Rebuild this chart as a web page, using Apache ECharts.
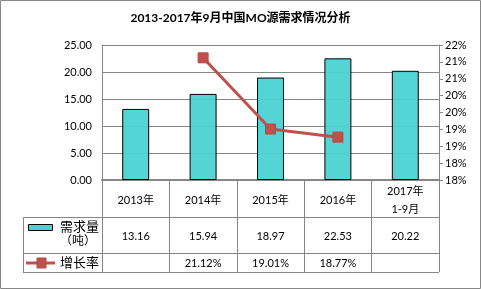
<!DOCTYPE html>
<html><head><meta charset="utf-8">
<script src="https://cdn.jsdelivr.net/npm/echarts@6/dist/echarts.min.js"></script>
<style>html,body{margin:0;padding:0;background:#fff}#c{width:481px;height:289px}</style>
</head><body><div id="c"></div>
<script>
var categories = ['2013年', '2014年', '2015年', '2016年', '2017年\n1-9月'];
var demand = [13.16, 15.94, 18.97, 22.53, 20.22];
var growth = [null, 21.12, 19.01, 18.77, null];
var leftTicks = { min: 0, max: 25, interval: 5 };
var rightTicks = { min: 17.5, max: 21.5, interval: 0.5 };
var seriesNames = ['需求量', '增长率'];
var unitLabel = '（吨）';
var title = '2013-2017年9月中国MO源需求情况分析';

var FONT = "Lato, 'Noto Sans CJK SC', sans-serif";
var GREY = '#868686';
var chart = echarts.init(document.getElementById('c'), null, { renderer: 'canvas' });
var gridL = 102, gridR = 439, gridT = 45, gridB = 180;
var rowY1 = 217, rowY2 = 253, rowY3 = 272, tableL = 23;

var opt = {
  animation: false,
  textStyle: { fontFamily: FONT },
  title: { text: title, left: 'center', top: 7, textStyle: { fontFamily: FONT, fontSize: 12, fontWeight: 'bold', color: '#000' } },
  grid: { left: gridL, right: 481 - gridR, top: gridT, bottom: 289 - gridB },
  xAxis: [
    { type: 'category', data: categories, position: 'bottom',
      axisLine: { show: true, lineStyle: { color: GREY, width: 2 } },
      axisTick: { show: true, length: rowY3 - gridB, lineStyle: { color: GREY, width: 1 } },
      axisLabel: { color: '#000', fontSize: 11, fontFamily: FONT, margin: 20, verticalAlign: 'middle', lineHeight: 18 } },
    { type: 'category', data: demand.map(function (v) { return v.toFixed(2); }), position: 'bottom',
      axisLine: { show: false }, axisTick: { show: false },
      axisLabel: { color: '#000', fontSize: 11, fontFamily: FONT, margin: 56, verticalAlign: 'middle' } },
    { type: 'category', data: growth.map(function (v) { return v == null ? '' : v.toFixed(2) + '%'; }), position: 'bottom',
      axisLine: { show: false }, axisTick: { show: false },
      axisLabel: { color: '#000', fontSize: 11, fontFamily: FONT, margin: 83, verticalAlign: 'middle' } }
  ],
  yAxis: [
    { type: 'value', min: leftTicks.min, max: leftTicks.max, interval: leftTicks.interval,
      axisLine: { show: true, lineStyle: { color: GREY } }, axisTick: { show: false },
      splitLine: { lineStyle: { color: GREY, width: 1 } },
      axisLabel: { color: '#000', fontSize: 11, fontFamily: FONT, margin: 10, formatter: function (v) { return v.toFixed(2); } } },
    { type: 'value', position: 'right', min: rightTicks.min, max: rightTicks.max, interval: rightTicks.interval,
      axisLine: { show: true, lineStyle: { color: GREY } },
      axisTick: { show: true, length: 4, lineStyle: { color: GREY } },
      splitLine: { show: false },
      axisLabel: { color: '#000', fontSize: 11, fontFamily: FONT, margin: 6, formatter: function (v) { return Math.round(v) + '%'; } } }
  ],
  series: [
    { name: seriesNames[0], type: 'bar', data: demand, barWidth: '40%', xAxisIndex: 0, yAxisIndex: 0,
      itemStyle: { color: 'rgba(75,210,211,0.95)', borderColor: '#000', borderWidth: 1 } },
    { name: seriesNames[1], type: 'line', data: growth, xAxisIndex: 0, yAxisIndex: 1,
      symbol: 'rect', symbolSize: 10, connectNulls: false,
      lineStyle: { color: '#C0504D', width: 3 },
      itemStyle: { color: '#C0504D', borderColor: '#B54844', borderWidth: 1 } }
  ],
  graphic: [
    { type: 'rect', shape: { x: 0.5, y: 0.5, width: 480, height: 288 }, style: { fill: 'none', stroke: GREY, lineWidth: 1 }, z: 10 },
    { type: 'line', shape: { x1: tableL, y1: rowY1 + 0.5, x2: gridR, y2: rowY1 + 0.5 }, style: { stroke: GREY, lineWidth: 1 } },
    { type: 'line', shape: { x1: tableL, y1: rowY2 + 0.5, x2: gridR, y2: rowY2 + 0.5 }, style: { stroke: GREY, lineWidth: 1 } },
    { type: 'line', shape: { x1: tableL, y1: rowY3 + 0.5, x2: gridR, y2: rowY3 + 0.5 }, style: { stroke: GREY, lineWidth: 1 } },
    { type: 'line', shape: { x1: tableL + 0.5, y1: rowY1, x2: tableL + 0.5, y2: rowY3 }, style: { stroke: GREY, lineWidth: 1 } },
    { type: 'rect', shape: { x: 28.5, y: 224.5, width: 24, height: 6 }, style: { fill: '#4BD2D3', stroke: '#000', lineWidth: 1 } },
    { type: 'text', style: { text: seriesNames[0], x: 60, y: 227, fontSize: 13, fontFamily: FONT, fill: '#000', verticalAlign: 'middle' } },
    { type: 'text', style: { text: unitLabel, x: 60, y: 241, fontSize: 12, fontFamily: FONT, fill: '#000', verticalAlign: 'middle' } },
    { type: 'line', shape: { x1: 26, y1: 263, x2: 55, y2: 263 }, style: { stroke: '#C0504D', lineWidth: 3 } },
    { type: 'rect', shape: { x: 37, y: 258, width: 9, height: 10 }, style: { fill: '#C0504D', stroke: '#B54844', lineWidth: 1 } },
    { type: 'text', style: { text: seriesNames[1], x: 60, y: 263, fontSize: 13, fontFamily: FONT, fill: '#000', verticalAlign: 'middle' } }
  ]
};
chart.setOption(opt);
</script></body></html>
